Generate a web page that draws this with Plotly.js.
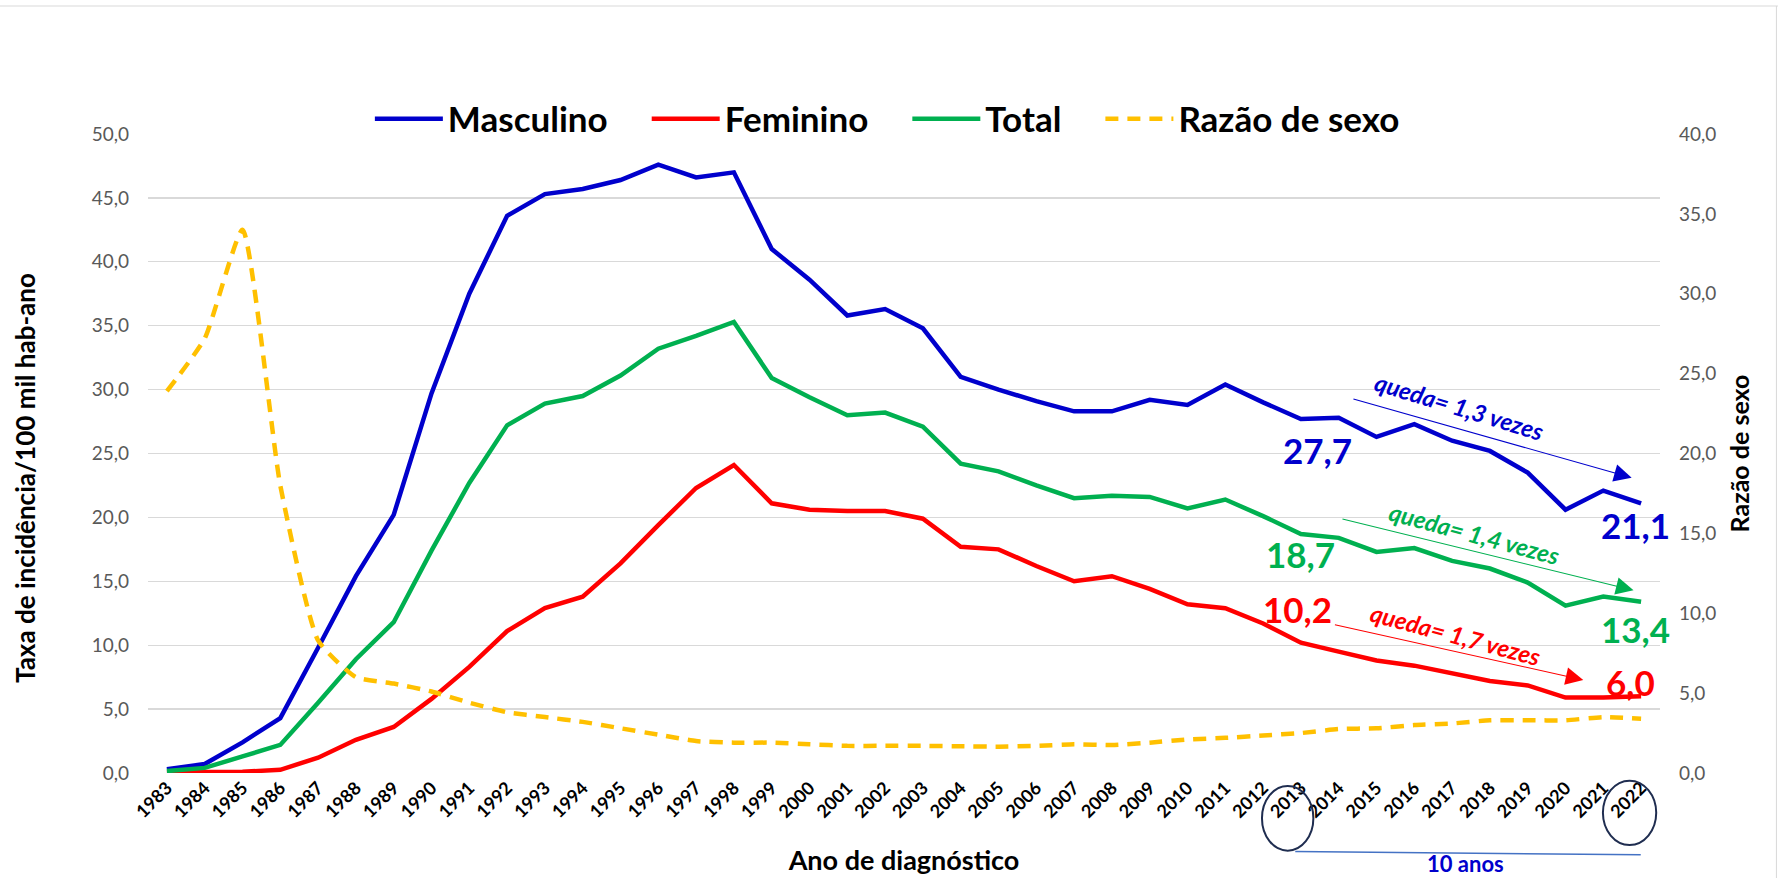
<!DOCTYPE html>
<html>
<head>
<meta charset="utf-8">
<script src="https://cdn.plot.ly/plotly-3.0.1.min.js"></script>
<style>
html,body{margin:0;padding:0;background:#fff;}
#chart{width:1779px;height:878px;}
</style>
</head>
<body>
<div id="chart"></div>
<script>
// ---- Data ----
const anos = [1983,1984,1985,1986,1987,1988,1989,1990,1991,1992,
              1993,1994,1995,1996,1997,1998,1999,2000,2001,2002,
              2003,2004,2005,2006,2007,2008,2009,2010,2011,2012,
              2013,2014,2015,2016,2017,2018,2019,2020,2021,2022];
const tickLabels = anos.map(String);

const masculino = [0.3,0.7,2.4,4.3,9.8,15.4,20.2,29.7,37.5,43.6,
                   45.3,45.7,46.4,47.6,46.6,47.0,41.0,38.6,35.8,36.3,
                   34.8,31.0,30.0,29.1,28.3,28.3,29.2,28.8,30.4,29.0,
                   27.7,27.8,26.3,27.3,26.0,25.2,23.5,20.6,22.1,21.1];

const feminino = [0.05,0.05,0.1,0.25,1.2,2.6,3.6,5.8,8.3,11.1,
                  12.9,13.8,16.4,19.4,22.3,24.1,21.1,20.6,20.5,20.5,
                  19.9,17.7,17.5,16.2,15.0,15.4,14.4,13.2,12.9,11.7,
                  10.2,9.5,8.8,8.4,7.8,7.2,6.85,5.9,5.9,6.0];

const total = [0.15,0.4,1.3,2.2,5.5,8.9,11.8,17.4,22.7,27.2,
               28.9,29.5,31.1,33.2,34.2,35.3,30.9,29.4,28.0,28.2,
               27.1,24.2,23.6,22.5,21.5,21.7,21.6,20.7,21.4,20.1,
               18.7,18.4,17.3,17.6,16.6,16.0,14.9,13.1,13.8,13.4];

const razaoSexo = [23.9,27.2,34.0,18.0,8.3,6.0,5.6,5.1,4.4,3.8,
                   3.5,3.2,2.8,2.4,2.0,1.9,1.9,1.8,1.7,1.7,
                   1.7,1.67,1.65,1.7,1.8,1.75,1.9,2.1,2.2,2.35,
                   2.5,2.75,2.8,3.0,3.1,3.3,3.3,3.3,3.5,3.4];

const seriesNames = ['Masculino','Feminino','Total','Razão de sexo'];

// ---- Styling ----
const AZUL = '#0000CC', VERMELHO = '#FF0000', VERDE = '#00B050', AMARELO = '#FFC000';
const FONT = 'Lato, "Open Sans", sans-serif';
const PAD = '\u00a0\u00a0\u00a0\u00a0';

const fmt = v => v.toFixed(1).replace('.', ',');
const i13 = anos.indexOf(2013), i22 = anos.indexOf(2022);

const traces = [
  {x: anos, y: masculino, name: seriesNames[0] + PAD, type: 'scatter', mode: 'lines',
   line: {color: AZUL, width: 4.5}},
  {x: anos, y: feminino, name: seriesNames[1] + PAD, type: 'scatter', mode: 'lines',
   line: {color: VERMELHO, width: 4.5}},
  {x: anos, y: total, name: seriesNames[2] + PAD, type: 'scatter', mode: 'lines',
   line: {color: VERDE, width: 4.5}},
  {x: anos, y: razaoSexo, name: seriesNames[3], type: 'scatter', mode: 'lines', yaxis: 'y2',
   line: {color: AMARELO, width: 4.5, dash: '13px,9px', shape: 'spline', smoothing: 0.5}}
];

function valLabel(x, y, v, color) {
  return {x: x, y: y, xref: 'x', yref: 'y', text: fmt(v), showarrow: false,
          xanchor: 'center', yanchor: 'middle',
          font: {family: FONT, size: 35, weight: 'bold', color: color}};
}
function arrow(ax, ay, x, y, color) {
  return {x: x, y: y, ax: ax, ay: ay, xref: 'x', yref: 'y', axref: 'x', ayref: 'y',
          text: '', showarrow: true, arrowhead: 2, arrowsize: 3.2, arrowwidth: 1.1,
          arrowcolor: color, standoff: 0, startstandoff: 0};
}
function quedaText(x, y, ratio, angle, color) {
  return {x: x, y: y, xref: 'x', yref: 'y', text: 'queda= ' + fmt(ratio) + ' vezes',
          showarrow: false, textangle: angle, xanchor: 'center', yanchor: 'middle',
          font: {family: FONT, size: 24, weight: 'bold', style: 'italic', color: color}};
}

const annotations = [
  valLabel(2013.45, 25.3, masculino[i13], AZUL),
  valLabel(2021.84, 19.4, masculino[i22], AZUL),
  valLabel(2013.0, 17.1, total[i13], VERDE),
  valLabel(2021.84, 11.3, total[i22], VERDE),
  valLabel(2012.9, 12.8, feminino[i13], VERMELHO),
  valLabel(2021.73, 7.15, feminino[i22], VERMELHO),
  arrow(2014.35, 29.3, 2021.75, 23.1, AZUL),
  arrow(2014.06, 19.9, 2021.8, 14.3, VERDE),
  arrow(2013.86, 11.63, 2020.47, 7.28, VERMELHO),
  quedaText(2017.2, 28.7, masculino[i13] / masculino[i22], 17, AZUL),
  quedaText(2017.6, 18.75, total[i13] / total[i22], 15, VERDE),
  quedaText(2017.1, 10.8, feminino[i13] / feminino[i22], 15, VERMELHO),
  // left axis title (placed as in the reference, slightly below plot centre)
  {x: -0.0813, y: 0.4617, xref: 'paper', yref: 'paper', text: 'Taxa de incidência/100 mil hab-ano',
   showarrow: false, textangle: -90, xanchor: 'center', yanchor: 'middle',
   font: {family: FONT, size: 26, weight: 'bold', color: '#000'}},
  {x: 2017.36, y: -0.142, xref: 'x', yref: 'paper', text: '10 anos', showarrow: false,
   xanchor: 'center', yanchor: 'middle',
   font: {family: FONT, size: 22, weight: 'bold', color: AZUL}}
];

const shapes = [
  {type: 'circle', xref: 'x', yref: 'paper', x0: 2011.97, x1: 2013.33, y0: -0.0203, y1: -0.1216,
   line: {color: '#1F2D50', width: 2}},
  {type: 'circle', xref: 'x', yref: 'paper', x0: 2020.99, x1: 2022.4, y0: -0.012, y1: -0.1127,
   line: {color: '#1F2D50', width: 2}},
  {type: 'line', xref: 'x', yref: 'paper', x0: 2012.85, x1: 2021.99, y0: -0.123, y1: -0.128,
   line: {color: '#4472C4', width: 1.5}},
  // chart area border (top and right)
  {type: 'line', xref: 'paper', yref: 'paper', x0: -0.1, x1: 1.078, y0: 1.2003, y1: 1.2003,
   line: {color: '#d9d9d9', width: 1}},
  {type: 'line', xref: 'paper', yref: 'paper', x0: 1.077, x1: 1.077, y0: 1.2003, y1: -0.2,
   line: {color: '#d9d9d9', width: 1}}
];

const layout = {
  width: 1779, height: 878,
  margin: {l: 148, r: 119, t: 134, b: 105, pad: 0},
  paper_bgcolor: '#ffffff', plot_bgcolor: '#ffffff',
  separators: ',.',
  font: {family: FONT, color: '#000'},
  showlegend: true,
  hovermode: false,
  legend: {orientation: 'h', x: 0.489, xanchor: 'center', y: 1.0235, yanchor: 'middle',
           font: {family: FONT, size: 35, weight: 'bold', color: '#000'},
           itemwidth: 68, bgcolor: 'rgba(0,0,0,0)', traceorder: 'normal'},
  xaxis: {range: [1982.5, 2022.5], tickmode: 'array', tickvals: anos, ticktext: tickLabels,
          tickangle: -45, tickfont: {family: FONT, size: 18, weight: 'bold', color: '#000'},
          showgrid: false, zeroline: false, showline: false, ticks: '', automargin: false,
          title: {text: 'Ano de diagnóstico', font: {family: FONT, size: 27, weight: 'bold', color: '#000'}, standoff: 30}},
  yaxis: {range: [0, 50], tickmode: 'linear', tick0: 0, dtick: 5, tickformat: '.1f',
          gridcolor: '#d9d9d9', gridwidth: 1.3, zeroline: false, showline: false, ticks: '',
          tickfont: {family: FONT, size: 19, color: '#595959'}, ticklabelstandoff: 18, automargin: false},
  yaxis2: {overlaying: 'y', side: 'right', range: [0, 40], tickmode: 'linear', tick0: 0, dtick: 5,
           tickformat: '.1f', showgrid: false, zeroline: false, showline: false, ticks: '',
           tickfont: {family: FONT, size: 19, color: '#595959'}, ticklabelstandoff: 18, automargin: false,
           title: {text: 'Razão de sexo', font: {family: FONT, size: 25, weight: 'bold', color: '#000'}, standoff: 16}},
  annotations: annotations,
  shapes: shapes
};

Plotly.newPlot('chart', traces, layout, {displayModeBar: false, staticPlot: true});
</script>
</body>
</html>
